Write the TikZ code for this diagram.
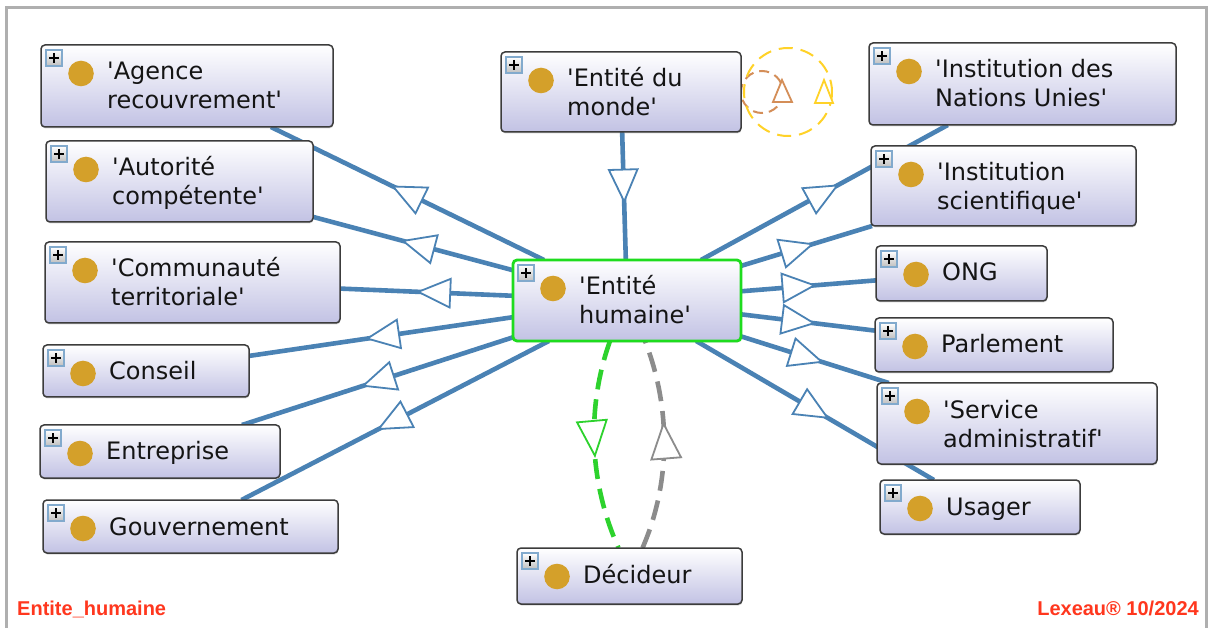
\documentclass[tikz,border=0pt]{standalone}
\usepackage{fontspec}
\setmainfont{DejaVu Sans}[Ligatures=TeXOff]
\newfontfamily\footfont{Liberation Sans}
\usetikzlibrary{arrows.meta,decorations.markings,shadows}
\pgfdeclarelayer{bg}
\pgfdeclarelayer{lines}
\pgfsetlayers{bg,lines,main}
\definecolor{lineblue}{RGB}{74,130,180}
\definecolor{ehgreen}{RGB}{30,220,30}
\definecolor{dgreen}{RGB}{45,210,45}
\definecolor{dgray}{RGB}{140,140,140}
\definecolor{gold}{RGB}{212,160,42}
\definecolor{nodeborder}{RGB}{60,60,60}
\definecolor{lavender}{RGB}{194,194,228}
\definecolor{loopor}{RGB}{212,142,88}
\definecolor{loopye}{RGB}{255,210,40}
\definecolor{footred}{RGB}{255,55,30}
\definecolor{framegray}{RGB}{175,175,175}
\definecolor{plusblue}{RGB}{130,170,205}
\tikzset{
  x=1pt, y=-1pt,
  clsbox/.style={rectangle, rounded corners=4pt, draw=nodeborder, line width=1.5pt,
    top color=white, bottom color=lavender, inner sep=0pt, outer sep=0pt,
    drop shadow={opacity=0.3, shadow xshift=0.5pt, shadow yshift=-1.5pt}},
  sel/.style={draw=ehgreen, line width=2.8pt},
  plusbox/.style={top color=white, bottom color=black!25, draw=plusblue, line width=1.2pt},
  plussign/.style={draw=black, line width=2pt},
  lab/.style={anchor=base west, inner sep=0pt, font=\fontsize{24}{29}\selectfont, text=black!92},
  tri/.tip={Triangle[length=35pt,width=31pt,fill=white,line width=1.8pt]},
  bigtri/.tip={Triangle[length=38pt,width=32pt,fill=white,line width=1.8pt]},
  isa/.style={draw=lineblue, line width=4.6pt, postaction={decorate},
    decoration={markings, mark=at position 0.56 with {\arrow{tri}}}},
  dgreenline/.style={draw=dgreen, line width=4.6pt, dash pattern=on 20pt off 10pt, postaction={decorate},
    decoration={markings, mark=at position 0.56 with {\arrow{bigtri}}}},
  dgrayline/.style={draw=dgray, line width=4.6pt, dash pattern=on 20pt off 10pt, postaction={decorate},
    decoration={markings, mark=at position 0.61 with {\arrow{bigtri}}}},
  footr/.style={inner sep=0pt, text=footred, font=\footfont\bfseries\fontsize{20}{24}\selectfont},
}
\newcommand\cls[8][]{%
  \node[clsbox,#1, minimum width={(#5)-(#3)}, minimum height={(#6)-(#4)}] (#2) at ({((#3)+(#5))/2},{((#4)+(#6))/2}) {};
  \shadedraw[plusbox] ({#3+5},{#4+5}) rectangle ({#3+21},{#4+21});
  \draw[plussign] ({#3+8},{#4+13}) -- ({#3+18},{#4+13}) ({#3+13},{#4+8}) -- ({#3+13},{#4+18});
  \fill[gold] ({#3+40},{#4+28.5}) circle[radius=12.8];
  \node[lab] at ({#3+66},{#4+35}) {#7};
  \if\relax\detokenize{#8}\relax\else\node[lab] at ({#3+66},{#4+64}) {#8};\fi
}
\begin{document}
\begin{tikzpicture}
\useasboundingbox (0,0) rectangle (1211,628);
\begin{pgfonlayer}{bg}
  \fill[white] (0,0) rectangle (1211,628);
  \draw[framegray, line width=3pt] (6.5,660) -- (6.5,7.5) -- (1206.5,7.5) -- (1206.5,660);
\end{pgfonlayer}

\cls{ag}{41}{45}{333}{127}{'Agence}{recouvrement'}
\cls{au}{46}{141}{313}{222}{'Autorité}{compétente'}
\cls{co}{45}{242}{340}{323}{'Communauté}{territoriale'}
\cls{cs}{43}{345}{249}{397}{Conseil}{}
\cls{en}{40}{425}{280}{478}{Entreprise}{}
\cls{go}{43}{500}{338}{553}{Gouvernement}{}
\cls{wm}{501}{52}{741}{132}{'Entité du}{monde'}
\cls[sel]{eh}{513}{260}{741}{341}{'Entité}{humaine'}
\cls{de}{517}{548}{742}{604}{Décideur}{}
\cls{nu}{869}{43}{1176}{125}{'Institution des}{Nations Unies'}
\cls{is}{871}{146}{1136}{226}{'Institution}{scientifique'}
\cls{on}{876}{246}{1047}{301}{ONG}{}
\cls{pa}{875}{318}{1113}{372}{Parlement}{}
\cls{sa}{877}{383}{1157}{464}{'Service}{administratif'}
\cls{us}{880}{480}{1080}{534}{Usager}{}

\begin{pgfonlayer}{lines}
  \foreach \t in {ag,au,co,cs,en,go,nu,is,on,pa,sa,us} \draw[isa] (eh) -- (\t);
  \draw[isa] (wm) -- (eh);
  \draw[dgreenline] ([xshift=-17pt]eh.south) .. controls (587,405) and (588,480) .. ([xshift=-11pt]de.north);
  \draw[dgrayline] ([xshift=13pt]de.north) .. controls (672,480) and (670,405) .. ([xshift=18pt]eh.south);
  % self loops on 'Entité du monde'
  \draw[loopor, line width=2pt, dash pattern=on 10pt off 6pt] ([xshift=21pt]wm.east) circle[radius=21];
  \draw[loopye, line width=2pt, dash pattern=on 14pt off 8pt] ([xshift=47pt]wm.east) circle[radius=44];
\end{pgfonlayer}
\filldraw[loopor, fill=white, line width=1.8pt, line join=miter] (782,80) -- (773,102) -- (792,102) -- cycle;
\filldraw[loopye, fill=white, line width=1.8pt, line join=miter] (824,80) -- (815,103) -- (833,103) -- cycle;

\node[footr, anchor=base west] (f1) at (17,615) {Entite\_humaine};
\node[footr, anchor=base east] (f2) at (1199,615) {Lexeau® 10/2024};
\end{tikzpicture}
\end{document}
